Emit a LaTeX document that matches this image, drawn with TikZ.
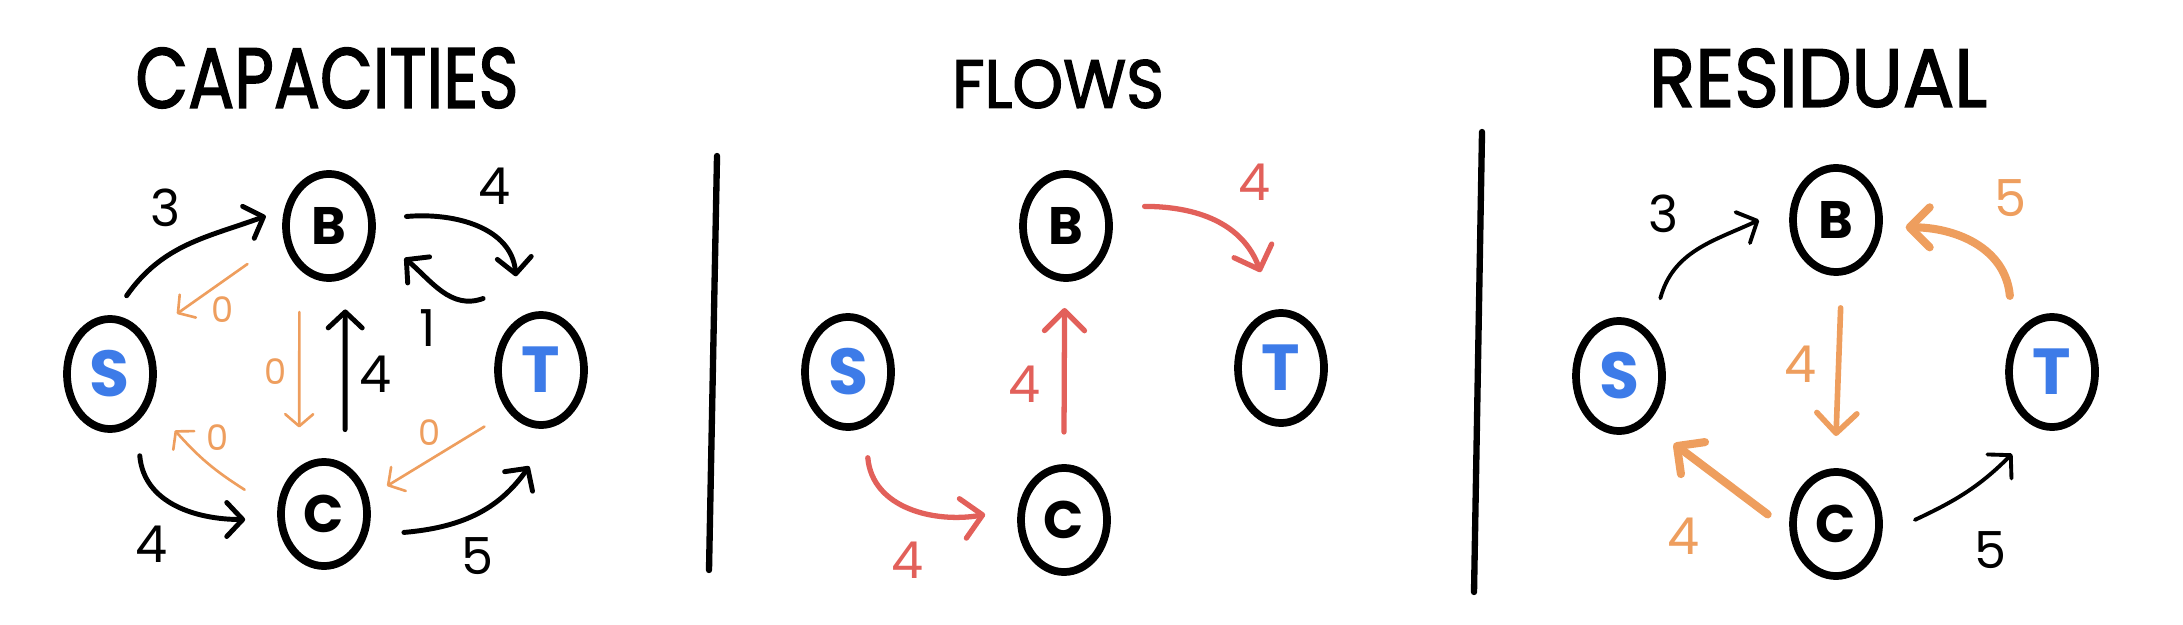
\documentclass[tikz,border=0pt]{standalone}
\usepackage{fontspec}
\setmainfont{Poppins}
\newfontfamily\titlefont{Poppins}[FakeBold=2]
\usetikzlibrary{arrows.meta,shapes.geometric,calc}

\definecolor{nodeblue}{HTML}{3D7BE8}
\definecolor{flowred}{HTML}{E2605A}
\definecolor{resorange}{HTML}{EE9E5E}

\tikzset{
	vertex/.style={draw, ellipse, line width=2.2pt, minimum width=0.86cm, minimum height=1.04cm, inner sep=0pt, font=\bfseries\fontsize{15}{15}\selectfont},
	terminal/.style={vertex, text=nodeblue, minimum height=1.1cm, font=\bfseries\fontsize{18.5}{18.5}\selectfont},
	weight/.style={font=\fontsize{14.5}{14.5}\selectfont},
	zeroweight/.style={text=resorange, font=\fontsize{10}{10}\selectfont},
	capedge/.style={line width=1.4pt, line cap=round, -{Straight Barb[length=1.6mm,width=3.4mm,round]}},
	zeroedge/.style={resorange, line width=0.75pt, line cap=round, -{Straight Barb[length=1.2mm,width=2.8mm,round]}},
	flowedge/.style={flowred, line width=1.5pt, line cap=round, -{Straight Barb[length=2mm,width=4mm,round]}},
	resedge/.style={resorange, line width=2.3pt, line cap=round, -{Straight Barb[length=2mm,width=4mm,round]}},
	divider/.style={line width=1.8pt, line cap=round}
}

\begin{document}
\begin{tikzpicture}[x=0.01cm, y=0.01cm]
	\useasboundingbox (0,0) rectangle (2183,624);

	% titles
	\node (capTitle) at (327,546) {\resizebox{3.83cm}{0.6cm}{\titlefont CAPACITIES}};
	\node (flowTitle) at (1058,540) {\resizebox{2.12cm}{0.48cm}{\titlefont FLOWS}};
	\node (resTitle) at (1818,546) {\resizebox{3.38cm}{0.58cm}{\titlefont RESIDUAL}};

	% dividers
	\draw[divider] (717,468) -- (709,54);
	\draw[divider] (1482,492) -- (1474,32);

	% capacities
	\node[vertex] (cB) at (329,398) {B};
	\node[terminal] (cS) at (110,250) {S};
	\node[terminal] (cT) at (541,254) {T};
	\node[vertex] (cC) at (324,110) {C};

	\draw[capedge] ($(cS)+(78:80)$) to[out=55, in=200] ($(cB)+(171:64)$);
	\draw[capedge] ($(cB)+(7:78)$) to[out=5, in=95] ($(cT)+(105:97)$);
	\draw[capedge] ($(cT)+(129:92)$) to[out=200, in=-40] ($(cB)+(-23:82)$);
	\draw[capedge] ($(cC)+(76:87)$) -- ($(cB)+(-79:85)$);
	\draw[capedge] ($(cS)+(-70:87)$) to[out=-85, in=180] ($(cC)+(184:79)$);
	\draw[capedge] ($(cC)+(-13:82)$) to[out=5, in=235] ($(cT)+(263:97)$);
	\draw[zeroedge] ($(cB)+(205:90)$) -- ($(cS)+(42:90)$);
	\draw[zeroedge] ($(cB)+(251:91)$) -- ($(cC)+(106:90)$);
	\draw[zeroedge] ($(cC)+(163:83)$) to[bend left=8] ($(cS)+(-41:86)$);
	\draw[zeroedge] ($(cT)+(225:80)$) -- ($(cC)+(24:69)$);

	\node[weight] (cSB) at (166,416) {3};
	\node[weight] (cBT) at (495,438) {4};
	\node[weight] (cTB) at (428,296) {1};
	\node[weight] (cCB) at (376,250) {4};
	\node[weight] (cSC) at (152,80) {4};
	\node[weight] (cCT) at (478,68) {5};
	\node[zeroweight] (cBS) at (223,314) {0};
	\node[zeroweight] (cBC) at (276,252) {0};
	\node[zeroweight] (cCS) at (218,186) {0};
	\node[zeroweight] (cTC) at (430,191) {0};

	% flows
	\node[vertex] (fB) at (1066,398) {B};
	\node[terminal] (fS) at (848,252) {S};
	\node[terminal] (fT) at (1281,256) {T};
	\node[vertex] (fC) at (1064,104) {C};

	\draw[flowedge] ($(fB)+(14:81)$) to[out=0, in=110] ($(fT)+(102:98)$);
	\draw[flowedge] ($(fC)+(90:88)$) -- ($(fB)+(-91:82)$);
	\draw[flowedge] ($(fS)+(-77:88)$) to[out=-85, in=190] ($(fC)+(176:79)$);

	\node[weight, text=flowred] (fBT) at (1255,442) {4};
	\node[weight, text=flowred] (fCB) at (1025,240) {4};
	\node[weight, text=flowred] (fSC) at (908,64) {4};

	% residual
	\node[vertex] (rB) at (1836,404) {B};
	\node[terminal] (rS) at (1619,248) {S};
	\node[terminal] (rT) at (2052,252) {T};
	\node[vertex] (rC) at (1836,100) {C};

	\draw[capedge, line width=1.1pt] ($(rS)+(62:88)$) to[out=75, in=205] ($(rB)+(180:77)$);
	\draw[capedge, line width=1.1pt] ($(rC)+(3:79)$) to[out=25, in=225] ($(rT)+(244:91)$);
	\draw[resedge] ($(rT)+(119:87)$) to[out=95, in=0] ($(rB)+(-6:70)$);
	\draw[resedge, line width=1.6pt] ($(rB)+(-87:88)$) -- ($(rC)+(90:88)$);
	\draw[resedge] ($(rC)+(172:69)$) -- ($(rS)+(-51:87)$);

	\node[weight] (rSB) at (1663,410) {3};
	\node[weight] (rCT) at (1990,74) {5};
	\node[weight, text=resorange] (rTB) at (2010,426) {5};
	\node[weight, text=resorange] (rBC) at (1801,260) {4};
	\node[weight, text=resorange] (rCS) at (1684,88) {4};
\end{tikzpicture}
\end{document}
